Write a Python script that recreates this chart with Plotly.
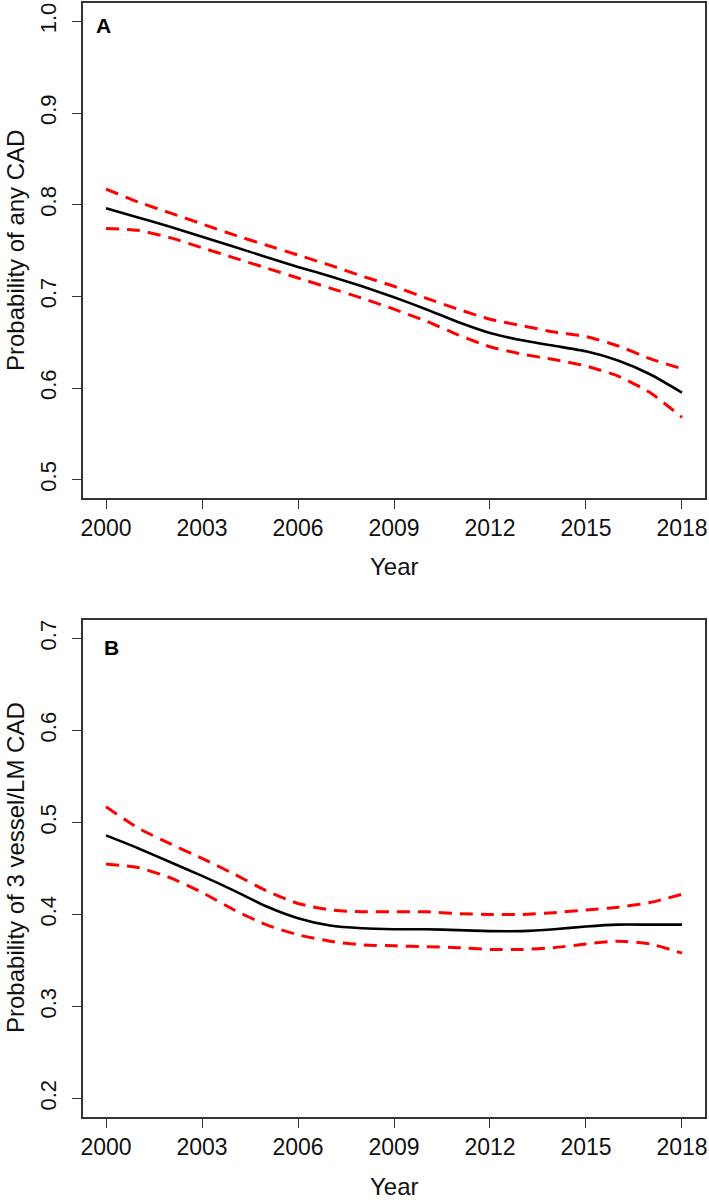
import plotly.graph_objects as go

years = list(range(2000, 2019))

a_est = [0.796, 0.786, 0.776, 0.765, 0.754, 0.743, 0.732, 0.722, 0.711, 0.699,
         0.686, 0.672, 0.660, 0.652, 0.646, 0.640, 0.630, 0.615, 0.595]
a_upper = [0.817, 0.803, 0.791, 0.779, 0.767, 0.756, 0.745, 0.734, 0.722, 0.711,
           0.698, 0.686, 0.675, 0.668, 0.661, 0.656, 0.646, 0.632, 0.621]
a_lower = [0.774, 0.772, 0.764, 0.753, 0.742, 0.731, 0.720, 0.709, 0.698, 0.686,
           0.673, 0.658, 0.645, 0.637, 0.631, 0.624, 0.613, 0.595, 0.568]

b_est = [0.486, 0.472, 0.457, 0.442, 0.426, 0.409, 0.396, 0.388, 0.385, 0.384,
         0.384, 0.383, 0.382, 0.382, 0.384, 0.387, 0.389, 0.389, 0.389]
b_upper = [0.517, 0.494, 0.477, 0.461, 0.444, 0.426, 0.412, 0.405, 0.403, 0.403,
           0.403, 0.401, 0.400, 0.400, 0.402, 0.405, 0.408, 0.413, 0.422]
b_lower = [0.455, 0.451, 0.440, 0.424, 0.405, 0.389, 0.378, 0.371, 0.367, 0.366,
           0.365, 0.364, 0.362, 0.362, 0.364, 0.368, 0.371, 0.368, 0.358]

x_ticks = [2000, 2003, 2006, 2009, 2012, 2015, 2018]
a_yticks = [0.5, 0.6, 0.7, 0.8, 0.9, 1.0]
b_yticks = [0.2, 0.3, 0.4, 0.5, 0.6, 0.7]
a_title = "Probability of any CAD"
b_title = "Probability of 3 vessel/LM CAD"

FONT = "Liberation Sans, Arial, Helvetica, sans-serif"
AX = "#333333"
W, H = 709, 1200

fig = go.Figure()

def add_panel(est, up, lo, xa, ya):
    for s in (up, lo):
        fig.add_trace(go.Scatter(x=years, y=s, mode="lines", xaxis=xa, yaxis=ya,
                                 line=dict(color="#ff0000", width=3, dash="13px,8px",
                                           shape="spline", smoothing=0.6),
                                 showlegend=False, hoverinfo="skip"))
    fig.add_trace(go.Scatter(x=years, y=est, mode="lines", xaxis=xa, yaxis=ya,
                             line=dict(color="black", width=2.6, shape="spline", smoothing=0.6),
                             showlegend=False, hoverinfo="skip"))

add_panel(a_est, a_upper, a_lower, "x", "y")
add_panel(b_est, b_upper, b_lower, "x2", "y2")

common_x = dict(range=[1999.28, 2018.72], tickvals=x_ticks, ticktext=[str(t) for t in x_ticks],
                showline=True, mirror=True, linecolor=AX, linewidth=1.6,
                ticks="outside", ticklen=9, tickwidth=1.4, tickcolor=AX,
                showgrid=False, zeroline=False, automargin=False,
                tickfont=dict(family=FONT, size=23, color="#111111"))
common_y = dict(showline=True, mirror=True, linecolor=AX, linewidth=1.6,
                ticks="outside", ticklen=9, tickwidth=1.4, tickcolor=AX,
                showgrid=False, zeroline=False, tickangle=-90, automargin=False,
                ticklabelstandoff=7,
                tickfont=dict(family=FONT, size=22, color="#111111"))

def px_x(p):
    return p / W

def px_y(p):
    return 1 - p / H

fig.update_layout(
    width=W, height=H,
    margin=dict(l=0, r=0, t=0, b=0, pad=0),
    paper_bgcolor="white", plot_bgcolor="white",
    xaxis=dict(domain=[px_x(83), px_x(705)], anchor="y", **common_x),
    yaxis=dict(domain=[px_y(498), px_y(3)], anchor="x", range=[0.48, 1.02],
               tickvals=a_yticks, ticktext=[f"{v:.1f}" for v in a_yticks], **common_y),
    xaxis2=dict(domain=[px_x(83), px_x(705)], anchor="y2", **common_x),
    yaxis2=dict(domain=[px_y(1117), px_y(620)], anchor="x2", range=[0.18, 0.72],
                tickvals=b_yticks, ticktext=[f"{v:.1f}" for v in b_yticks], **common_y),
)

tf = dict(family=FONT, size=24, color="#111111")
fig.add_annotation(text="Year", x=px_x(394), y=px_y(566), xref="paper", yref="paper",
                   showarrow=False, font=tf, xanchor="center", yanchor="middle")
fig.add_annotation(text="Year", x=px_x(394), y=px_y(1186), xref="paper", yref="paper",
                   showarrow=False, font=tf, xanchor="center", yanchor="middle")
fig.add_annotation(text=a_title, x=px_x(15), y=px_y(251), xref="paper", yref="paper",
                   showarrow=False, font=tf, textangle=-90, xanchor="center", yanchor="middle")
fig.add_annotation(text=b_title, x=px_x(15), y=px_y(868), xref="paper", yref="paper",
                   showarrow=False, font=tf, textangle=-90, xanchor="center", yanchor="middle")
fig.add_annotation(text="<b>A</b>", x=px_x(103), y=px_y(25), xref="paper", yref="paper",
                   showarrow=False, font=dict(family=FONT, size=21, color="black"),
                   xanchor="center", yanchor="middle")
fig.add_annotation(text="<b>B</b>", x=px_x(111), y=px_y(647), xref="paper", yref="paper",
                   showarrow=False, font=dict(family=FONT, size=21, color="black"),
                   xanchor="center", yanchor="middle")

fig.write_html("out.html", config={"displayModeBar": False},
               post_script="document.body.style.margin='0px';")
